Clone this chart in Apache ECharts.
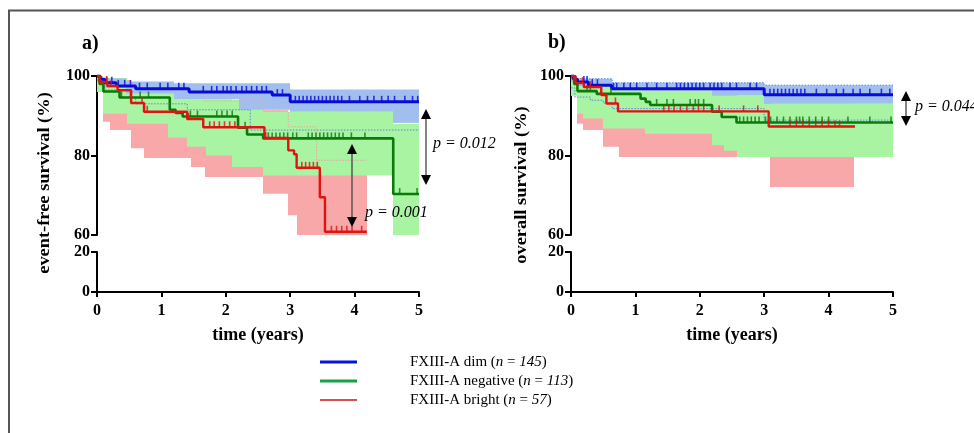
<!DOCTYPE html>
<html>
<head>
<meta charset="utf-8">
<script src="https://cdn.jsdelivr.net/npm/echarts@6/dist/echarts.min.js"></script>
<style>
  html, body { margin: 0; padding: 0; background: #fff; }
  #chart { width: 974px; height: 433px; }
</style>
</head>
<body>
<div id="chart"></div>
<script>
// tick values
var xTicks = [0, 1, 2, 3, 4, 5];
var topTicks = [60, 80, 100];
var bottomTicks = [0, 20];

// a) event-free survival, KM steps [time, %]
var efsDimCurve = [[0, 100], [0.05, 99.2], [0.12, 98.3], [0.3, 97.5], [0.6, 96.8], [1.43, 96.0], [2.72, 95.2], [3.0, 93.5], [5, 93.5]];
var efsNegCurve = [[0, 100], [0.04, 98], [0.1, 96.1], [0.35, 94.6], [1.13, 91.5], [1.22, 90.7], [1.33, 89.8], [2.19, 87.0], [2.33, 85.3], [2.58, 84.3], [4.6, 70.3], [5, 70.3]];
var efsBrightCurve = [[0, 100], [0.04, 98.5], [0.16, 97.5], [0.32, 96.4], [0.53, 93.2], [0.73, 91.0], [1.4, 89.2], [1.65, 87.1], [2.6, 84.4], [2.97, 81.3], [3.06, 80.3], [3.1, 76.9], [3.46, 69.5], [3.54, 60.8], [4.19, 60.8]];

// censored times
var efsDimCensor = [0.15, 0.23, 0.33, 0.43, 0.52, 0.66, 0.78, 0.98, 1.1, 1.27, 1.35, 1.65, 1.78, 1.86, 1.96, 2.02, 2.08, 2.16, 2.25, 2.32, 2.4, 2.48, 2.56, 2.63, 2.8, 2.88, 3.08, 3.14, 3.2, 3.26, 3.32, 3.38, 3.44, 3.5, 3.56, 3.62, 3.68, 3.74, 3.8, 3.92, 4.08, 4.2, 4.3, 4.42, 4.52, 4.62, 4.78, 4.9, 4.98];
var efsNegCensor = [0.38, 0.52, 0.67, 0.8, 1.45, 1.56, 1.86, 1.94, 2.02, 2.1, 2.3, 2.6, 2.66, 2.72, 2.78, 2.84, 2.9, 2.96, 3.04, 3.1, 3.28, 3.34, 3.4, 3.46, 3.52, 3.58, 3.64, 3.7, 3.76, 3.82, 3.95, 4.16, 4.7, 4.97];
var efsBrightCensor = [0.15, 0.22, 0.7, 0.78, 1.42, 1.75, 1.82, 1.9, 1.98, 2.06, 2.14, 2.62, 3.18, 3.24, 3.3, 3.36, 3.42, 3.64, 3.72, 3.8, 3.88, 3.96, 4.11];

// 95% CI shading [from, to, lower, upper]
var efsDimBand = [[0, 0.1, 98.5, 100], [0.1, 0.45, 97, 99.4], [0.45, 1.2, 95.6, 98.6], [1.2, 2.2, 94.2, 98.2], [2.2, 3.0, 91.5, 98.2], [3.0, 4.6, 91, 96.6], [4.6, 5, 88.2, 96.6]];
var efsNegBand = [[0, 0.09, 96, 100], [0.09, 0.47, 90.5, 99.5], [0.47, 1.1, 88, 98.5], [1.1, 1.4, 84.5, 97], [1.4, 1.7, 82.2, 96.5], [1.7, 2.1, 80, 96], [2.1, 2.58, 77.1, 94], [2.58, 4.6, 75, 91], [4.6, 5, 60, 88]];
var efsBrightBand = [[0, 0.09, 96, 100], [0.09, 0.2, 88.5, 99.5], [0.2, 0.53, 86.4, 99], [0.53, 0.73, 81.8, 98], [0.73, 1.46, 79.4, 97], [1.46, 1.67, 77.1, 95], [1.67, 2.58, 74.6, 94], [2.58, 2.97, 70.4, 91.4], [2.97, 3.1, 65, 87.2], [3.1, 3.41, 60, 87.2], [3.41, 4.19, 60, 78.8]];
// dotted CI edges that show through
var efsDimLowerEdge = [[0, 99], [0.1, 96.5], [0.35, 94.7], [0.6, 93], [1.4, 91.5], [2.38, 86.4], [5, 86.4]];
var efsBrightUpperEdge = [[1.65, 93.7], [2.58, 91.4], [2.97, 87.2], [3.41, 78.8], [4.19, 78.8]];

// b) overall survival
var osDimCurve = [[0, 100], [0.04, 99.2], [0.1, 98.5], [0.27, 97.7], [0.63, 96.8], [3.0, 95.3], [5, 95.3]];
var osNegCurve = [[0, 100], [0.05, 98], [0.1, 96.2], [0.4, 95.5], [1.08, 94.3], [1.16, 93.5], [1.23, 92.7], [2.19, 91.0], [2.34, 89.7], [2.57, 88.3], [5, 88.3]];
var osBrightCurve = [[0, 100], [0.07, 98.2], [0.2, 97.2], [0.47, 95.2], [0.55, 93.1], [0.73, 91.1], [3.07, 87.3], [4.41, 87.3]];

var osDimCensor = [0.2, 0.25, 0.33, 0.41, 0.66, 0.71, 0.82, 0.92, 1.02, 1.18, 1.33, 1.49, 1.64, 1.7, 1.76, 1.82, 1.88, 1.94, 2.0, 2.06, 2.16, 2.22, 2.28, 2.34, 2.47, 2.57, 2.78, 2.88, 3.09, 3.15, 3.21, 3.27, 3.33, 3.39, 3.45, 3.51, 3.57, 3.63, 3.81, 3.97, 4.12, 4.23, 4.38, 4.49, 4.64, 4.82, 4.95];
var osNegCensor = [0.25, 0.3, 0.62, 1.33, 1.49, 1.59, 1.85, 1.93, 1.98, 2.06, 2.62, 2.68, 2.74, 2.8, 2.86, 2.92, 3.02, 3.1, 3.2, 3.3, 3.4, 3.5, 3.55, 3.6, 3.7, 3.8, 3.9, 4.0, 4.3, 4.64, 4.97];
var osBrightCensor = [0.18, 0.3, 0.69, 1.44, 1.52, 1.6, 1.7, 1.8, 1.9, 1.98, 2.06, 2.3, 2.68, 2.9, 3.4, 3.5, 3.6, 3.7, 3.8, 3.9, 4.0, 4.1, 4.17];

var osDimBand = [[0, 0.1, 98.5, 100], [0.1, 0.64, 97.5, 99.3], [0.64, 2.19, 96.4, 98.3], [2.19, 3.0, 95.1, 98.3], [3.0, 5, 93.0, 97.7]];
var osNegBand = [[0, 0.09, 95, 100], [0.09, 0.19, 90.5, 99], [0.19, 0.5, 89.3, 98], [0.5, 1.15, 86.8, 97.5], [1.15, 2.19, 85.5, 96.4], [2.19, 2.37, 82.6, 95.1], [2.37, 2.57, 81.2, 95.1], [2.57, 3.0, 79.6, 95.1], [3.0, 5, 79.6, 93]];
var osBrightBand = [[0, 0.09, 96, 100], [0.09, 0.19, 88, 99.5], [0.19, 0.5, 86.4, 99], [0.5, 0.74, 82.2, 98], [0.74, 2.57, 79.6, 96.5], [2.57, 3.09, 80, 95], [3.09, 4.4, 72.1, 93]];
var osDimUpperEdge = [[0, 99.3], [0.64, 98.3], [3.0, 97.7], [5, 97.7]];
var osDimLowerEdge = [[0, 97], [0.06, 94.7], [0.3, 93.9], [0.5, 93.2], [0.64, 91.8], [3.0, 88.9], [5, 88.9]];

var groupNames = ['FXIII-A dim', 'FXIII-A negative', 'FXIII-A bright'];
var groupN = [145, 113, 57];

var serif = '"Liberation Serif", "Times New Roman", serif';
var colors = { dim: '#0a0ad8', neg: '#0b790b', bright: '#e01212' };
var bandColors = { dim: '#a0bfee', neg: '#a8f4a2', bright: '#f8a8a8' };
var edgeColors = { dim: '#5a86d8', bright: '#f2a0a0' };

function stepAt(curve, t) {
    var v = curve[0][1];
    for (var i = 0; i < curve.length; i++) {
        if (curve[i][0] <= t) v = curve[i][1];
    }
    return v;
}

function renderBand(params, api) {
    var a = api.coord([api.value(0), api.value(3)]);
    var b = api.coord([api.value(1), api.value(2)]);
    var x0 = Math.round(a[0]), x1 = Math.round(b[0]);
    return {
        type: 'rect',
        shape: { x: x0, y: a[1], width: x1 - x0, height: b[1] - a[1] },
        style: { fill: api.visual('color') }
    };
}

var series = [];
function addGroup(panel, key, curve, censor, band, width) {
    var ax = panel * 2;
    var order = { bright: 0, neg: 1, dim: 2 }[key];
    series.push({
        type: 'custom',
        xAxisIndex: ax, yAxisIndex: ax,
        renderItem: renderBand,
        encode: { x: [0, 1], y: [2, 3] },
        itemStyle: { color: bandColors[key] },
        data: band,
        z: 1 + order,
        silent: true
    });
    series.push({
        type: 'line',
        xAxisIndex: ax, yAxisIndex: ax,
        step: 'end',
        showSymbol: false,
        data: curve,
        lineStyle: { color: colors[key], width: width },
        z: 10 + (2 - order),
        silent: true
    });
    series.push({
        type: 'scatter',
        xAxisIndex: ax, yAxisIndex: ax,
        symbol: 'rect',
        symbolSize: [1.6, 6],
        symbolOffset: [0, -3],
        itemStyle: { color: colors[key] },
        data: censor.map(function (t) { return [t, stepAt(curve, t)]; }),
        z: 10 + (2 - order),
        silent: true
    });
}
function addEdge(panel, key, edge) {
    series.push({
        type: 'line',
        xAxisIndex: panel * 2, yAxisIndex: panel * 2,
        step: 'end',
        showSymbol: false,
        data: edge,
        lineStyle: { color: edgeColors[key], width: 1, type: [1.5, 1.5] },
        z: 6,
        silent: true
    });
}

addGroup(0, 'bright', efsBrightCurve, efsBrightCensor, efsBrightBand, 2.4);
addGroup(0, 'neg', efsNegCurve, efsNegCensor, efsNegBand, 2.6);
addGroup(0, 'dim', efsDimCurve, efsDimCensor, efsDimBand, 3);
addEdge(0, 'dim', efsDimLowerEdge);
addEdge(0, 'bright', efsBrightUpperEdge);
addGroup(1, 'bright', osBrightCurve, osBrightCensor, osBrightBand, 2.4);
addGroup(1, 'neg', osNegCurve, osNegCensor, osNegBand, 2.6);
addGroup(1, 'dim', osDimCurve, osDimCensor, osDimBand, 3);
addEdge(1, 'dim', osDimUpperEdge);
addEdge(1, 'dim', osDimLowerEdge);

var lefts = [97, 571];
var grids = [], xAxes = [], yAxes = [];
lefts.forEach(function (left, p) {
    grids.push({ left: left, top: 76, width: 322, height: 159, outerBoundsMode: 'none' });
    grids.push({ left: left, top: 252, width: 322, height: 40, outerBoundsMode: 'none' });
    xAxes.push({ type: 'value', gridIndex: p * 2, min: xTicks[0], max: xTicks[xTicks.length - 1], interval: 1, show: false });
    xAxes.push({
        type: 'value', gridIndex: p * 2 + 1, min: xTicks[0], max: xTicks[xTicks.length - 1], interval: 1,
        name: 'time (years)', nameLocation: 'middle', nameGap: 34,
        nameTextStyle: { fontFamily: serif, fontWeight: 'bold', fontSize: 18, color: '#000' },
        axisLine: { show: true, lineStyle: { color: '#000', width: 2 } },
        axisTick: { show: true, inside: false, length: 5, lineStyle: { color: '#000', width: 2 } },
        axisLabel: { margin: 11, fontFamily: serif, fontWeight: 'bold', fontSize: 16, color: '#000' },
        splitLine: { show: false }
    });
    var yCommon = {
        type: 'value', interval: 20,
        axisLine: { show: true, lineStyle: { color: '#000', width: 2 } },
        axisTick: { show: true, inside: false, length: 6, lineStyle: { color: '#000', width: 2 } },
        axisLabel: { margin: 7, fontFamily: serif, fontWeight: 'bold', fontSize: 16, color: '#000' },
        splitLine: { show: false }
    };
    yAxes.push(Object.assign({ gridIndex: p * 2, min: topTicks[0], max: topTicks[topTicks.length - 1] }, yCommon));
    yAxes.push(Object.assign({ gridIndex: p * 2 + 1, min: bottomTicks[0], max: bottomTicks[bottomTicks.length - 1] }, yCommon));
});

function arrow(x, y1, y2) {
    return [
        { type: 'line', z: 100, shape: { x1: x, y1: y1 + 9, x2: x, y2: y2 - 9 }, style: { stroke: '#444', lineWidth: 1.3 } },
        { type: 'polygon', z: 100, shape: { points: [[x, y1], [x - 5, y1 + 10], [x + 5, y1 + 10]] }, style: { fill: '#000' } },
        { type: 'polygon', z: 100, shape: { points: [[x, y2], [x - 5, y2 - 10], [x + 5, y2 - 10]] }, style: { fill: '#000' } }
    ];
}
function pText(x, y, txt) {
    return { type: 'text', z: 100, x: x, y: y, style: { text: txt, font: 'italic 16px ' + serif, fill: '#000', verticalAlign: 'middle' } };
}

var graphics = [
    { type: 'rect', shape: { x: 9, y: 10.5, width: 1000, height: 500 }, style: { fill: 'none', stroke: '#555', lineWidth: 2 } },
    { type: 'text', x: 82, y: 44, style: { text: 'a)', font: 'bold 20px ' + serif, fill: '#000', verticalAlign: 'middle' } },
    { type: 'text', x: 548, y: 43, style: { text: 'b)', font: 'bold 20px ' + serif, fill: '#000', verticalAlign: 'middle' } },
    { type: 'text', x: 45, y: 183, rotation: Math.PI / 2, scaleX: 1.15, style: { text: 'event-free survival (%)', font: 'bold 16px ' + serif, fill: '#000', align: 'center', verticalAlign: 'middle' } },
    { type: 'text', x: 522, y: 185, rotation: Math.PI / 2, scaleX: 1.15, style: { text: 'overall survival (%)', font: 'bold 16px ' + serif, fill: '#000', align: 'center', verticalAlign: 'middle' } },
    pText(433, 144, 'p = 0.012'),
    pText(365, 213, 'p = 0.001'),
    pText(915, 107, 'p = 0.044')
].concat(arrow(426, 109, 185), arrow(352, 144, 227), arrow(906, 91, 126));

var legendColors = ['#0414dc', '#18a048', '#cc1414'];
var legendWidths = [3, 3, 1.5];
var legendY = [362, 381, 400];
groupNames.forEach(function (name, i) {
    graphics.push({ type: 'line', shape: { x1: 320, y1: legendY[i], x2: 357, y2: legendY[i] }, style: { stroke: legendColors[i], lineWidth: legendWidths[i] } });
    graphics.push({
        type: 'text', x: 410, y: legendY[i],
        style: {
            text: name + ' ({i|n} = {i|' + groupN[i] + '})',
            font: '15px ' + serif, fill: '#000', verticalAlign: 'middle',
            rich: { i: { font: 'italic 15px ' + serif, fill: '#000' } }
        }
    });
});

var chart = echarts.init(document.getElementById('chart'), null, { renderer: 'canvas' });
chart.setOption({
    backgroundColor: '#fff',
    animation: false,
    grid: grids,
    xAxis: xAxes,
    yAxis: yAxes,
    series: series,
    graphic: graphics
});
</script>
</body>
</html>
